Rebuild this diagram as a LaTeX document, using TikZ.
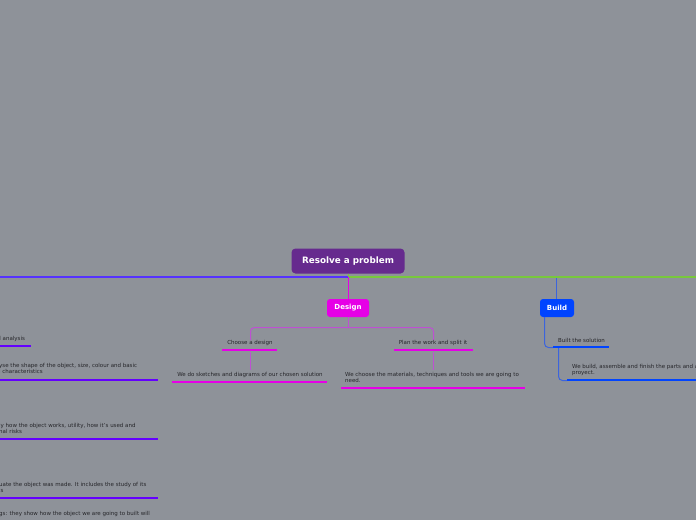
\documentclass[tikz,border=0pt]{standalone}
\usepackage{fontspec}
\setmainfont{DejaVu Sans}
\definecolor{bg}{RGB}{142,146,153}
\definecolor{rootc}{RGB}{102,42,142}
\definecolor{designc}{RGB}{230,0,230}
\definecolor{buildc}{RGB}{0,68,255}
\definecolor{branchblue}{RGB}{85,50,255}
\definecolor{leftbar}{RGB}{100,0,255}
\definecolor{greenc}{RGB}{120,200,60}
\definecolor{dconn}{RGB}{190,80,210}
\definecolor{bconn}{RGB}{60,100,220}
\definecolor{txt}{RGB}{38,38,42}
\begin{document}
\begin{tikzpicture}[x=1pt,y=-1pt,
  rootbox/.style={fill=rootc,rounded corners=4pt,minimum width=113pt,minimum height=25pt,inner sep=0pt,text=white,font=\fontsize{8.8}{10}\selectfont\bfseries},
  mainbox/.style={rounded corners=3pt,minimum height=18pt,inner sep=0pt,text=white,font=\fontsize{7}{8}\selectfont\bfseries},
  small/.style={inner sep=0pt,text=txt,font=\fontsize{5.5}{6.6}\selectfont},
  leftul/.style={draw=leftbar,line width=2.6pt},
  dul/.style={draw=designc,line width=2.6pt},
  bul/.style={draw=buildc,line width=2.6pt},
  dline/.style={draw=dconn,line width=1pt},
  bline/.style={draw=bconn,line width=1pt},
  leftbranch/.style={color=branchblue,line width=2pt},
  rightbranch/.style={color=greenc,line width=2pt},
]
\fill[bg] (0,0) rectangle (696,520);
\useasboundingbox (0,0) rectangle (696,520);

% root
\coordinate (j) at (348.5,277);
\coordinate (lend) at (0,277);
\coordinate (rend) at (696,277);
\coordinate (bj) at (556.5,278);
\draw[rightbranch] (j) -- (rend);
\draw[leftbranch] (j) -- (lend);
\node[rootbox] (root) at (348,261) {Resolve a problem};
\draw[greenc,line width=1pt] (root.south -| j) -- (j);

% Design
\node[mainbox,fill=designc,minimum width=42pt] (design) at (348,308) {Design};
\draw[designc,line width=1pt] (j) -- (design.north -| j);
\coordinate (dj) at (348.5,327.5);
\coordinate (c1top) at (250.5,340);
\coordinate (c2top) at (433.5,340);
\draw[dline] (design.south -| dj) -- (dj);
\draw[dline,rounded corners=4pt] (dj) -| (c1top);
\draw[dline,rounded corners=4pt] (dj) -| (c2top);

\node[small] (choose) at (250,343) {Choose a design};
\coordinate (cu1) at (222,350); \coordinate (cu2) at (277,350);
\draw[dul] (cu1) -- (cu2);
\node[small] (sketch) at (250,375) {We do sketches and diagrams of our chosen solution};
\coordinate (su1) at (172,382); \coordinate (su2) at (327,382);
\draw[dul] (su1) -- (su2);
\draw[dline] (250.5,351.5) -- (250.5,370);

\node[small] (plan) at (433,343) {Plan the work and split it};
\coordinate (pu1) at (394,350); \coordinate (pu2) at (473,350);
\draw[dul] (pu1) -- (pu2);
\node[small,anchor=north west,align=left] (choosemat) at (345,372) {We choose the materials, techniques and tools we are going to\\need.};
\coordinate (mu1) at (341,388); \coordinate (mu2) at (525,388);
\draw[dul] (mu1) -- (mu2);
\draw[dline] (433.5,351.5) -- (433.5,370);

% Build
\node[mainbox,fill=buildc,minimum width=34pt] (build) at (557,308) {Build};
\draw[bline] (bj) -- (build.north -| bj);
\coordinate (b1) at (544.5,317);
\coordinate (bu1) at (553,347.5); \coordinate (bu2) at (609,347);
\draw[bline,rounded corners=4pt] (b1) |- (bu1);
\node[small,anchor=west] (built) at (558,340) {Built the solution};
\draw[bul] (bu1 |- bu2) -- (bu2);
\coordinate (b2) at (558.5,348);
\coordinate (wu1) at (567,380.5); \coordinate (wu2) at (696,380);
\draw[bline,rounded corners=4pt] (b2) |- (wu1);
\node[small,anchor=north west,align=left] (webuild) at (572,364) {We build, assemble and finish the parts and a\\proyect.};
\draw[bul] (wu1 |- wu2) -- (wu2);

% Left branch
\node[small,anchor=west] (l1) at (-0.8,339) {l analysis};
\draw[leftul] (0,346) -- (31,346);
\node[small,anchor=north west,align=left] (l2) at (-1,363) {yse the shape of the object, size, colour and basic\\l characteristics};
\draw[leftul] (0,380) -- (158,380);
\node[small,anchor=north west,align=left] (l3) at (-1,423) {ly how the object works, utility, how it's used and\\nal risks};
\draw[leftul] (0,439) -- (158,439);
\node[small,anchor=north west,align=left] (l4) at (-1,482) {uate the object was made. It includes the study of its\\ls};
\draw[leftul] (0,498) -- (158,498);
\node[small,anchor=north west,align=left] (l5) at (-1,511) {gs: they show how the object we are going to built will};
\end{tikzpicture}
\end{document}
